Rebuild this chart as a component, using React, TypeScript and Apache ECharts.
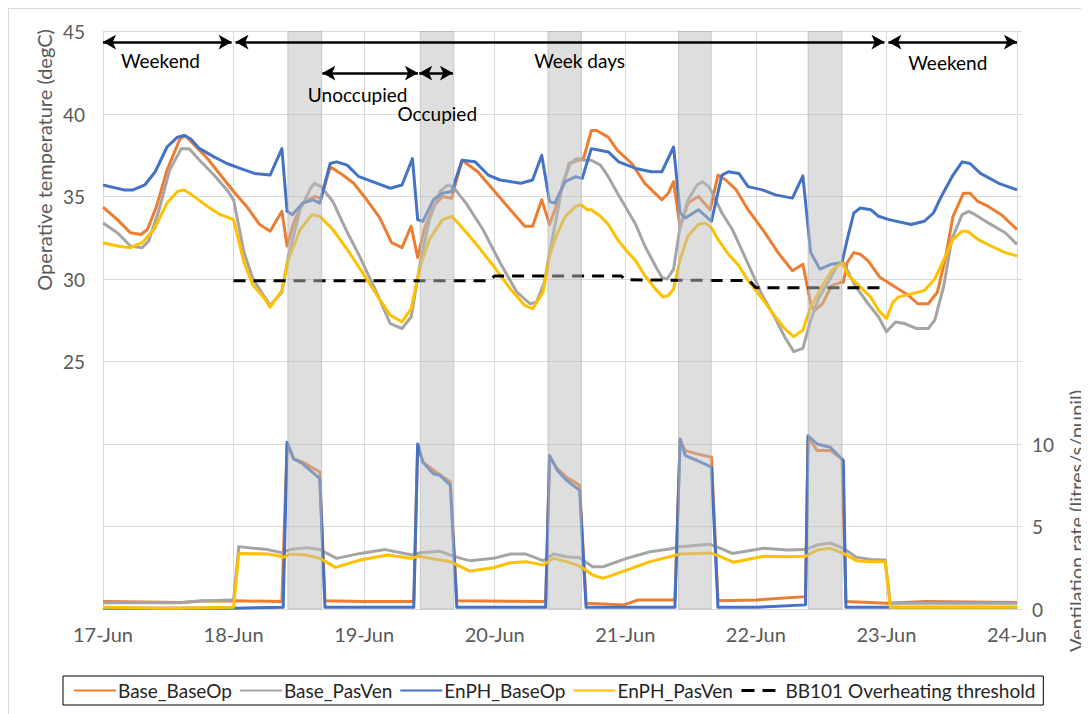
import React, { useEffect, useRef } from "react";
import * as echarts from "echarts";

// ---------- DATA ----------
const X_TICKS = [17, 18, 19, 20, 21, 22, 23, 24];
const MONTH = "Jun";

// Operative temperature (degC) : [day of June, value]
const BASE_BASEOP_T: number[][] = [
  [17.0, 34.35], [17.11, 33.6], [17.21, 32.8], [17.29, 32.7], [17.34, 33.0], [17.41, 34.4], [17.49, 36.6],
  [17.59, 38.5], [17.63, 38.7], [17.69, 38.2], [17.8, 37.3], [17.9, 36.3], [18.0, 35.3], [18.1, 34.4],
  [18.2, 33.3], [18.28, 32.9], [18.37, 34.1], [18.41, 32.0], [18.46, 33.4], [18.53, 34.6], [18.62, 35.0],
  [18.67, 34.9], [18.74, 36.8], [18.82, 36.4], [18.92, 35.8], [19.02, 34.8], [19.12, 33.7], [19.21, 32.2],
  [19.29, 31.9], [19.36, 33.2], [19.41, 31.3], [19.46, 33.0], [19.53, 34.4], [19.6, 35.0], [19.67, 34.9],
  [19.75, 37.2], [19.87, 36.5], [19.99, 35.4], [20.12, 34.2], [20.23, 33.2], [20.29, 33.2], [20.36, 34.8],
  [20.42, 33.3], [20.48, 34.6], [20.57, 37.0], [20.64, 37.2], [20.68, 37.3], [20.74, 39.0], [20.78, 39.0],
  [20.87, 38.6], [20.94, 37.8], [21.05, 37.0], [21.15, 35.8], [21.28, 34.8], [21.33, 35.2], [21.37, 35.9],
  [21.42, 33.1], [21.48, 34.6], [21.56, 35.0], [21.65, 34.2], [21.71, 36.3], [21.77, 36.0], [21.85, 35.4],
  [21.94, 34.2], [22.07, 32.8], [22.17, 31.6], [22.28, 30.5], [22.36, 30.9], [22.42, 28.5], [22.45, 28.1],
  [22.51, 28.5], [22.58, 29.6], [22.65, 29.8], [22.67, 29.8], [22.7, 31.0], [22.75, 31.6], [22.8, 31.5],
  [22.86, 31.1], [22.95, 30.1], [23.07, 29.5], [23.17, 29.0], [23.24, 28.5], [23.32, 28.5], [23.39, 29.2],
  [23.45, 31.2], [23.51, 33.8], [23.59, 35.2], [23.64, 35.2], [23.7, 34.7], [23.78, 34.4], [23.88, 33.9],
  [24.0, 33.0],
];

const BASE_PASVEN_T: number[][] = [
  [17.0, 33.4], [17.11, 32.8], [17.21, 32.0], [17.3, 31.9], [17.35, 32.3], [17.43, 34.2], [17.51, 36.6],
  [17.6, 37.9], [17.66, 37.9], [17.74, 37.2], [17.85, 36.3], [17.95, 35.4], [18.0, 34.8], [18.08, 31.6],
  [18.15, 30.0], [18.23, 29.0], [18.28, 28.4], [18.37, 29.2], [18.42, 31.4], [18.51, 34.2], [18.59, 35.5],
  [18.62, 35.8], [18.67, 35.6], [18.76, 34.7], [18.86, 33.0], [18.97, 31.3], [19.1, 29.1], [19.2, 27.3],
  [19.29, 27.0], [19.36, 27.7], [19.43, 31.0], [19.5, 33.6], [19.58, 35.3], [19.64, 35.7], [19.68, 35.6],
  [19.78, 34.6], [19.91, 33.0], [20.04, 31.0], [20.17, 29.2], [20.27, 28.5], [20.32, 28.6], [20.38, 29.8],
  [20.43, 32.0], [20.48, 34.0], [20.52, 35.8], [20.58, 37.0], [20.63, 37.3], [20.68, 37.2], [20.74, 37.2],
  [20.81, 36.9], [20.87, 36.2], [20.94, 35.2], [21.0, 34.4], [21.08, 33.3], [21.15, 32.0], [21.23, 30.8],
  [21.28, 30.1], [21.32, 30.0], [21.37, 30.6], [21.42, 33.2], [21.48, 34.8], [21.55, 35.7], [21.59, 35.9],
  [21.64, 35.6], [21.68, 35.0], [21.74, 34.0], [21.82, 33.0], [21.89, 31.8], [21.97, 30.4], [22.05, 29.0],
  [22.15, 27.6], [22.22, 26.5], [22.29, 25.6], [22.36, 25.8], [22.42, 27.5], [22.48, 28.8], [22.56, 29.9],
  [22.63, 30.9], [22.67, 31.0], [22.76, 29.6], [22.86, 28.5], [22.94, 27.7], [23.0, 26.8], [23.07, 27.4],
  [23.14, 27.3], [23.23, 27.0], [23.32, 27.0], [23.37, 27.5], [23.44, 29.6], [23.5, 32.4], [23.58, 33.9],
  [23.63, 34.1], [23.68, 33.9], [23.78, 33.4], [23.91, 32.8], [24.0, 32.1],
];

const ENPH_BASEOP_T: number[][] = [
  [17.0, 35.7], [17.16, 35.4], [17.23, 35.4], [17.32, 35.7], [17.4, 36.5], [17.49, 38.0], [17.57, 38.6],
  [17.62, 38.7], [17.67, 38.5], [17.74, 37.9], [17.85, 37.4], [17.95, 37.0], [18.05, 36.7], [18.16, 36.4],
  [18.28, 36.3], [18.37, 37.9], [18.41, 34.1], [18.45, 33.9], [18.53, 34.6], [18.61, 34.8], [18.66, 34.6],
  [18.74, 37.0], [18.79, 37.1], [18.87, 36.9], [18.96, 36.2], [19.1, 35.8], [19.2, 35.5], [19.29, 35.7],
  [19.37, 37.3], [19.41, 33.6], [19.45, 33.5], [19.53, 34.8], [19.6, 35.2], [19.67, 35.3], [19.75, 37.2],
  [19.85, 37.1], [19.95, 36.3], [20.04, 36.0], [20.2, 35.8], [20.29, 36.0], [20.36, 37.5], [20.42, 34.7],
  [20.46, 34.6], [20.54, 35.9], [20.62, 36.2], [20.67, 36.1], [20.74, 37.9], [20.87, 37.7], [20.95, 37.1],
  [21.08, 36.7], [21.2, 36.5], [21.28, 36.5], [21.37, 38.0], [21.42, 34.0], [21.46, 33.7], [21.56, 34.2],
  [21.66, 33.5], [21.74, 36.3], [21.79, 36.5], [21.87, 36.4], [21.94, 35.6], [22.05, 35.4], [22.15, 35.1],
  [22.28, 34.9], [22.36, 36.25], [22.42, 31.6], [22.49, 30.6], [22.58, 30.9], [22.66, 31.0], [22.7, 32.4],
  [22.75, 34.0], [22.8, 34.3], [22.88, 34.2], [22.94, 33.8], [23.02, 33.6], [23.19, 33.3], [23.29, 33.5],
  [23.36, 34.0], [23.42, 35.0], [23.51, 36.3], [23.58, 37.1], [23.64, 37.0], [23.72, 36.4], [23.86, 35.8],
  [24.0, 35.4],
];

const ENPH_PASVEN_T: number[][] = [
  [17.0, 32.2], [17.11, 32.0], [17.21, 31.9], [17.3, 32.2], [17.39, 33.0], [17.49, 34.6], [17.57, 35.3],
  [17.62, 35.4], [17.68, 35.1], [17.8, 34.4], [17.9, 33.9], [18.0, 33.6], [18.08, 31.0], [18.15, 29.6],
  [18.23, 28.9], [18.28, 28.3], [18.37, 29.3], [18.42, 31.2], [18.51, 33.0], [18.6, 33.9], [18.66, 33.8],
  [18.76, 33.0], [18.87, 31.8], [18.97, 30.6], [19.1, 29.0], [19.2, 27.8], [19.29, 27.4], [19.36, 28.2],
  [19.43, 30.8], [19.5, 32.4], [19.6, 33.6], [19.67, 33.8], [19.73, 33.3], [19.86, 32.1], [19.99, 30.8],
  [20.12, 29.4], [20.23, 28.4], [20.29, 28.2], [20.37, 29.2], [20.42, 31.4], [20.47, 32.6], [20.54, 33.8],
  [20.62, 34.4], [20.66, 34.5], [20.71, 34.2], [20.74, 34.2], [20.81, 33.8], [20.87, 33.3], [20.94, 32.4],
  [21.0, 31.8], [21.08, 31.1], [21.15, 30.2], [21.23, 29.4], [21.29, 28.9], [21.33, 29.0], [21.37, 29.4],
  [21.42, 31.2], [21.48, 32.6], [21.56, 33.3], [21.61, 33.4], [21.66, 33.1], [21.71, 32.4], [21.79, 31.5],
  [21.87, 30.8], [21.94, 29.9], [22.05, 28.8], [22.15, 27.7], [22.22, 27.0], [22.29, 26.5], [22.36, 26.9],
  [22.42, 28.3], [22.51, 29.6], [22.58, 30.5], [22.66, 31.0], [22.71, 30.2], [22.79, 29.6], [22.88, 28.9],
  [22.94, 28.1], [23.0, 27.6], [23.05, 28.6], [23.09, 28.9], [23.19, 29.1], [23.29, 29.3], [23.37, 30.0],
  [23.43, 31.0], [23.51, 32.4], [23.58, 32.9], [23.62, 32.9], [23.7, 32.4], [23.8, 32.0], [23.91, 31.6],
  [24.0, 31.4],
];

const BB101_THRESHOLD: number[][] = [
  [18.0, 29.9], [19.95, 29.9], [20.0, 30.18], [20.97, 30.18], [21.0, 29.95], [21.95, 29.9], [22.0, 29.47], [22.97, 29.47],
];

// Ventilation rate (litres/s/pupil) : [day of June, value]
const BASE_BASEOP_V: number[][] = [
  [17.0, 0.45], [17.6, 0.4], [17.75, 0.48], [18.0, 0.5], [18.37, 0.45], [18.41, 10.0], [18.46, 9.1],
  [18.53, 8.9], [18.66, 8.3], [18.7, 0.5], [19.0, 0.45], [19.38, 0.45], [19.41, 9.9], [19.45, 8.9],
  [19.55, 8.3], [19.66, 7.7], [19.71, 0.5], [20.39, 0.45], [20.42, 9.2], [20.48, 8.5], [20.55, 8.0],
  [20.65, 7.5], [20.7, 0.35], [20.99, 0.25], [21.1, 0.55], [21.38, 0.55], [21.42, 10.2], [21.46, 9.6],
  [21.55, 9.4], [21.66, 9.2], [21.71, 0.5], [22.0, 0.55], [22.38, 0.75], [22.4, 10.4], [22.47, 9.6],
  [22.57, 9.6], [22.66, 9.1], [22.69, 0.45], [23.0, 0.35], [23.3, 0.45], [24.0, 0.4],
];

const BASE_PASVEN_V: number[][] = [
  [17.0, 0.38], [17.59, 0.38], [17.75, 0.48], [17.97, 0.55], [18.0, 0.55], [18.04, 3.78], [18.15, 3.68],
  [18.26, 3.6], [18.37, 3.41], [18.43, 3.6], [18.56, 3.72], [18.66, 3.6], [18.79, 3.07], [18.97, 3.37],
  [19.16, 3.6], [19.37, 3.27], [19.43, 3.41], [19.58, 3.5], [19.66, 3.27], [19.74, 3.07], [19.81, 2.93],
  [19.99, 3.07], [20.12, 3.33], [20.24, 3.33], [20.37, 2.93], [20.45, 3.33], [20.55, 3.17], [20.65, 3.1],
  [20.75, 2.56], [20.83, 2.56], [21.01, 3.07], [21.19, 3.47], [21.34, 3.64], [21.42, 3.78], [21.65, 3.92],
  [21.73, 3.68], [21.82, 3.37], [22.06, 3.68], [22.24, 3.58], [22.38, 3.6], [22.47, 3.88], [22.57, 4.0],
  [22.67, 3.68], [22.77, 3.13], [22.88, 3.0], [22.99, 2.97], [23.03, 0.35], [24.0, 0.35],
];

const ENPH_BASEOP_V: number[][] = [
  [17.0, 0.05], [18.0, 0.05], [18.38, 0.1], [18.41, 10.1], [18.46, 9.1], [18.53, 8.8], [18.66, 7.9],
  [18.7, 0.1], [19.38, 0.1], [19.41, 10.0], [19.45, 8.9], [19.53, 8.2], [19.58, 8.1], [19.66, 7.5],
  [19.71, 0.1], [20.39, 0.1], [20.42, 9.3], [20.48, 8.4], [20.55, 7.8], [20.65, 7.2], [20.7, 0.1],
  [21.38, 0.1], [21.42, 10.3], [21.46, 9.3], [21.55, 9.0], [21.66, 8.6], [21.71, 0.1], [22.0, 0.1],
  [22.38, 0.25], [22.4, 10.5], [22.47, 10.0], [22.57, 9.8], [22.67, 9.0], [22.69, 0.1], [24.0, 0.1],
];

const ENPH_PASVEN_V: number[][] = [
  [17.0, 0.1], [17.5, 0.05], [18.0, 0.1], [18.04, 3.37], [18.26, 3.33], [18.36, 3.2], [18.38, 3.13],
  [18.43, 3.33], [18.56, 3.27], [18.66, 3.07], [18.78, 2.52], [18.97, 2.97], [19.18, 3.27], [19.36, 3.07],
  [19.42, 3.2], [19.56, 3.0], [19.66, 2.87], [19.81, 2.3], [19.99, 2.5], [20.12, 2.8], [20.24, 2.87],
  [20.37, 2.67], [20.45, 3.07], [20.55, 2.87], [20.65, 2.6], [20.75, 2.06], [20.83, 1.86], [21.01, 2.36],
  [21.19, 2.87], [21.34, 3.17], [21.42, 3.33], [21.65, 3.4], [21.73, 3.17], [21.83, 2.83], [22.06, 3.2],
  [22.24, 3.17], [22.38, 3.2], [22.47, 3.58], [22.57, 3.68], [22.67, 3.37], [22.77, 2.93], [22.88, 2.87],
  [22.99, 2.87], [23.03, 0.1], [24.0, 0.1],
];

// Occupied periods (shaded): [start day, end day]
const OCCUPIED: number[][] = [
  [18.416, 18.675], [19.43, 19.687], [20.408, 20.664], [21.408, 21.658], [22.4, 22.66],
];

const SERIES_NAMES = ["Base_BaseOp", "Base_PasVen", "EnPH_BaseOp", "EnPH_PasVen", "BB101 Overheating threshold"];
const COLORS = ["#ED7D31", "#A5A5A5", "#4472C4", "#FFC000", "#000000"];

// Annotation arrows [from day, to day, level (degC)] and texts
const ARROWS: number[][] = [
  [17.0, 17.985, 44.36], [18.015, 22.985, 44.36], [23.015, 24.0, 44.36],
  [18.68, 19.412, 42.48], [19.422, 19.68, 42.48],
];
const ANNOTATION_TEXTS = ["Weekend", "Week days", "Weekend", "Unoccupied", "Occupied"];
const ANNOTATION_AT: number[][] = [
  [17.44, 43.27], [20.65, 43.27], [23.47, 43.15], [18.95, 41.2], [19.56, 40.06],
];

const FONT = "Lato, 'Open Sans', sans-serif";
const AXIS_GREY = "#595959";
const GRID_GREY = "#d9d9d9";
const X_MIN = X_TICKS[0];
const X_MAX = X_TICKS[X_TICKS.length - 1];
const fmtDay = (v: number) => `${v}-${MONTH}`;
const TITLE_L = "Operative temperature (degC)";
const TITLE_R = "Ventilation rate (litres/s/pupil)";

const measure = (text: string, font: string) => {
  const ctx = document.createElement("canvas").getContext("2d");
  if (!ctx) return text.length * 10;
  ctx.font = font;
  return ctx.measureText(text).width;
};

export default function App() {
  const ref = useRef<HTMLDivElement>(null);

  useEffect(() => {
    if (!ref.current) return;
    const chart = echarts.init(ref.current, undefined, { renderer: "svg" });

    const lineSeries = (name: string, color: string, data: number[][], yAxisIndex: number, z = 2) => ({
      type: "line",
      name,
      data,
      yAxisIndex,
      showSymbol: false,
      symbol: "none",
      z,
      lineStyle: { color, width: 3, join: "round" },
      itemStyle: { color },
    });

    const option: any = {
      animation: false,
      textStyle: { fontFamily: FONT },
      grid: { left: 94, right: 72, top: 22.5, bottom: 105, containLabel: false },
      xAxis: {
        type: "value",
        min: X_MIN,
        max: X_MAX,
        interval: 1,
        axisLine: { show: true, lineStyle: { color: GRID_GREY, width: 1 } },
        axisTick: { show: false },
        splitLine: { show: true, lineStyle: { color: GRID_GREY, width: 1 } },
        axisLabel: {
          color: AXIS_GREY,
          fontSize: 20,
          margin: 15,
          fontFamily: FONT,
          showMinLabel: false,
          showMaxLabel: false,
          formatter: (v: number) => (X_TICKS.includes(v) && v !== X_MIN && v !== X_MAX ? fmtDay(v) : ""),
        },
      },
      yAxis: [
        {
          type: "value",
          min: 10,
          max: 45,
          interval: 5,
          position: "left",
          axisLine: { show: false },
          axisTick: { show: false },
          splitLine: { show: true, lineStyle: { color: GRID_GREY, width: 1 } },
          axisLabel: {
            color: AXIS_GREY,
            fontSize: 19,
            margin: 18,
            fontFamily: FONT,
            showMinLabel: false,
            formatter: (v: number) => (v >= 25 ? String(v) : ""),
          },
        },
        {
          type: "value",
          min: 0,
          max: 35,
          interval: 5,
          position: "right",
          axisLine: { show: true, lineStyle: { color: GRID_GREY, width: 1 } },
          axisTick: { show: true, length: 5, lineStyle: { color: GRID_GREY } },
          splitLine: { show: false },
          axisLabel: {
            color: AXIS_GREY,
            fontSize: 19,
            margin: 15,
            fontFamily: FONT,
            formatter: (v: number) => (v <= 10 ? String(v) : ""),
          },
        },
      ],
      legend: {
        data: SERIES_NAMES.map((n, i) =>
          i === 4 ? { name: n, lineStyle: { type: [13, 8], width: 3 } } : { name: n }
        ),
        left: 54,
        top: 667,
        orient: "horizontal",
        borderColor: "#000",
        borderWidth: 1,
        borderRadius: 0,
        padding: [5, 8, 5, 10],
        itemWidth: 42,
        itemHeight: 14,
        itemGap: 7,
        itemStyle: { opacity: 0 },
        textStyle: { fontSize: 19, color: "#262626", fontFamily: FONT, padding: [0, 0, 0, -3] },
      },
      series: [
        lineSeries(SERIES_NAMES[0], COLORS[0], BASE_BASEOP_T, 0),
        lineSeries(SERIES_NAMES[1], COLORS[1], BASE_PASVEN_T, 0),
        lineSeries(SERIES_NAMES[2], COLORS[2], ENPH_BASEOP_T, 0),
        lineSeries(SERIES_NAMES[3], COLORS[3], ENPH_PASVEN_T, 0),
        lineSeries(SERIES_NAMES[0], COLORS[0], BASE_BASEOP_V, 1),
        lineSeries(SERIES_NAMES[1], COLORS[1], BASE_PASVEN_V, 1),
        lineSeries(SERIES_NAMES[2], COLORS[2], ENPH_BASEOP_V, 1),
        lineSeries(SERIES_NAMES[3], COLORS[3], ENPH_PASVEN_V, 1),
        {
          type: "line",
          name: SERIES_NAMES[4],
          data: BB101_THRESHOLD,
          yAxisIndex: 0,
          showSymbol: false,
          symbol: "none",
          z: 2,
          lineStyle: { color: COLORS[4], width: 3, type: [12, 8] },
          itemStyle: { color: COLORS[4] },
          markLine: {
            silent: true,
            symbol: ["arrow", "arrow"],
            symbolSize: [11, 13],
            label: { show: false },
            lineStyle: { color: "#000", width: 2.5, type: "solid" },
            data: ARROWS.map(([a, b, lvl]) => [{ coord: [a, lvl] }, { coord: [b, lvl] }]),
          },
          markPoint: {
            silent: true,
            symbol: "circle",
            symbolSize: 0,
            itemStyle: { color: "transparent" },
            label: {
              show: true,
              position: "inside",
              color: "#000",
              fontSize: 19,
              fontFamily: FONT,
              formatter: (p: any) => p.name,
            },
            data: ANNOTATION_AT.map(([d, t], i) => ({ name: ANNOTATION_TEXTS[i], coord: [d, t] })),
          },
        },
        {
          type: "custom",
          name: "occupied",
          z: 3,
          silent: true,
          yAxisIndex: 0,
          data: OCCUPIED.map(([s, e]) => [s, e, 45]),
          encode: { x: [0, 1], y: 2 },
          renderItem: (_params: any, api: any) => {
            const p0 = api.coord([api.value(0), 45]);
            const p1 = api.coord([api.value(1), 10]);
            return {
              type: "rect",
              shape: { x: p0[0], y: p0[1], width: p1[0] - p0[0], height: p1[1] - p0[1] },
              style: { fill: "rgba(190,190,190,0.5)", stroke: "rgba(170,170,170,0.55)", lineWidth: 1 },
            };
          },
        },
      ],
    };

    chart.setOption(option);

    // End labels of the date axis and the axis titles, placed through the axis scales
    const font = `20px ${FONT}`;
    const baseY = chart.convertToPixel({ yAxisIndex: 1 }, 0) as number;
    const endLabels = [X_MIN, X_MAX].map((v, i) => {
      const t = fmtDay(v);
      const px = chart.convertToPixel({ xAxisIndex: 0 }, v) as number;
      return {
        id: `xEnd${i}`,
        type: "text",
        x: px - measure(t, font) / 2,
        y: baseY + 15,
        style: { text: t, fill: AXIS_GREY, font, align: "left", verticalAlign: "top" },
      };
    });
    const wl = measure(TITLE_L, font);
    const wr = measure(TITLE_R, font);
    const titles = [
      { id: "tL", type: "text", x: 25, y: 151 + wl / 2, rotation: Math.PI / 2,
        style: { text: TITLE_L, fill: AXIS_GREY, font, align: "left", verticalAlign: "top" } },
      { id: "tR", type: "text", x: 1057, y: 512 + wr / 2, rotation: Math.PI / 2,
        style: { text: TITLE_R, fill: AXIS_GREY, font, align: "left", verticalAlign: "top" } },
    ];
    chart.setOption({ graphic: [...endLabels, ...titles] });

    return () => chart.dispose();
  }, []);

  return (
    <div
      style={{
        width: 1080,
        height: 705,
        borderLeft: "1px solid #d9d9d9",
        borderTop: "1px solid #d9d9d9",
        background: "#fff",
      }}
    >
      <div ref={ref} style={{ width: 1080, height: 705 }} />
    </div>
  );
}
